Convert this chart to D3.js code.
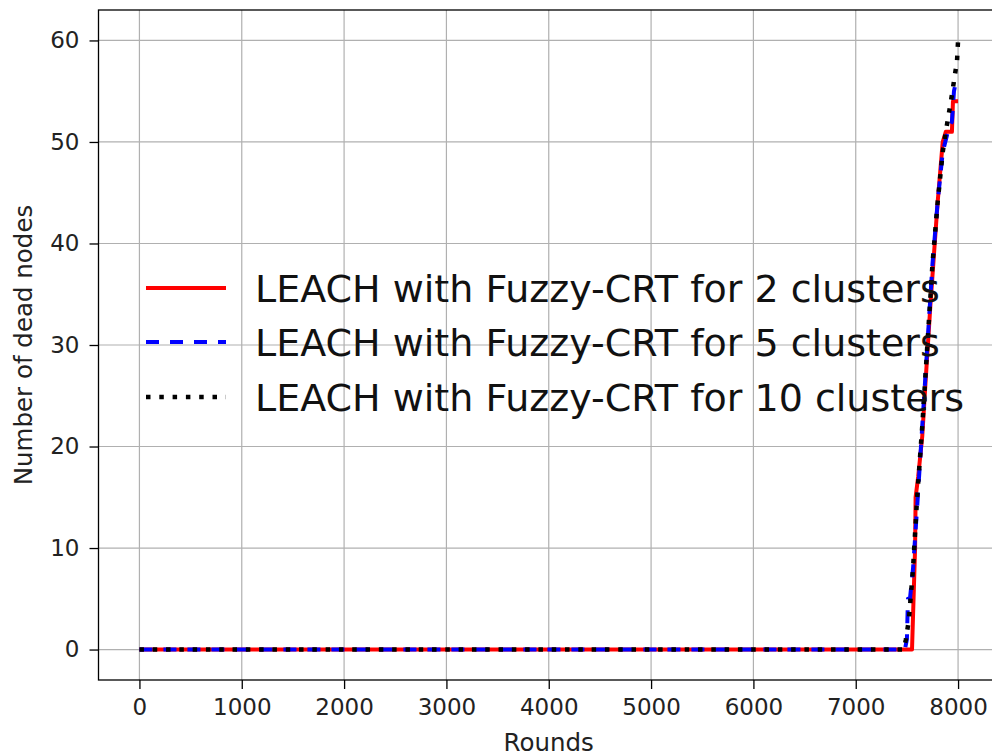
<!DOCTYPE html>
<html>
<head>
<meta charset="utf-8">
<script src="https://cdn.jsdelivr.net/npm/d3@7"></script>
<style>
  body { margin: 0; background: #fff; }
  svg { display: block; font-family: "DejaVu Sans", sans-serif; }
</style>
</head>
<body>
<div id="chart"></div>
<script>
"use strict";

// rounds (x) and number of dead nodes (y) for each run
const rounds2 = [0, 7550, 7580, 7585, 7610, 7650, 7680, 7730, 7800, 7850, 7880, 7940, 7950, 7990, 8000]
const dead2 = [0, 0, 10, 15, 17, 21, 26, 34, 44, 50, 51, 51, 54, 54, 54]

const rounds5 = [0, 7480, 7500, 7510, 7530, 7560, 7600, 7650, 7700, 7750, 7800, 7850, 7900, 7940, 7960, 7980, 8000]
const dead5 = [0, 0, 1, 5, 5, 8, 14, 22, 30, 38, 44, 49, 51, 52, 55, 56, 56]

const rounds10 = [0, 7470, 7490, 7520, 7560, 7600, 7650, 7700, 7750, 7800, 7850, 7880, 7930, 7960, 7990, 8000]
const dead10 = [0, 0, 1, 3, 8, 15, 22, 30, 38, 44, 49, 51, 54, 56, 58, 60]

const xTicks = [0, 1000, 2000, 3000, 4000, 5000, 6000, 7000, 8000]
const yTicks = [0, 10, 20, 30, 40, 50, 60]

const seriesNames = [
    "LEACH with Fuzzy-CRT for 2 clusters",
    "LEACH with Fuzzy-CRT for 5 clusters",
    "LEACH with Fuzzy-CRT for 10 clusters"
]

const measurements = {
    width: 992,
    height: 756,
    left: 98.5,
    right: 999,
    top: 10,
    bottom: 680
}

const styles = [
    { color: "#ff0000", dash: null, width: 4 },
    { color: "#0000ff", dash: "13,11", width: 4 },
    { color: "#000000", dash: "4.5,8.8", width: 4.5 }
]

const series = [
    rounds2.map((r, i) => [r, dead2[i]]),
    rounds5.map((r, i) => [r, dead5[i]]),
    rounds10.map((r, i) => [r, dead10[i]])
]

const svg = d3.select("#chart").append("svg")
    .attr("width", measurements.width)
    .attr("height", measurements.height)

const scaleX = d3.scaleLinear()
    .domain([-400, 8400])
    .range([measurements.left, measurements.right])
const scaleY = d3.scaleLinear()
    .domain([-3, 63])
    .range([measurements.bottom, measurements.top])

// grid lines
svg.append("g").selectAll("line.vgrid")
    .data(xTicks)
    .enter().append("line")
    .attr("x1", d => scaleX(d)).attr("x2", d => scaleX(d))
    .attr("y1", measurements.top).attr("y2", measurements.bottom)
    .attr("stroke", "#b0b0b0").attr("stroke-width", 1.2)
svg.append("g").selectAll("line.hgrid")
    .data(yTicks)
    .enter().append("line")
    .attr("x1", measurements.left).attr("x2", measurements.right)
    .attr("y1", d => scaleY(d)).attr("y2", d => scaleY(d))
    .attr("stroke", "#b0b0b0").attr("stroke-width", 1.2)

// data lines
const line = d3.line()
    .x(d => scaleX(d[0]))
    .y(d => scaleY(d[1]))

series.forEach((s, i) => {
    svg.append("path")
        .datum(s)
        .attr("d", line)
        .attr("fill", "none")
        .attr("stroke", styles[i].color)
        .attr("stroke-width", styles[i].width)
        .attr("stroke-dasharray", styles[i].dash)
        .attr("stroke-linejoin", "round")
})

// frame
svg.append("rect")
    .attr("x", measurements.left).attr("y", measurements.top)
    .attr("width", measurements.right - measurements.left)
    .attr("height", measurements.bottom - measurements.top)
    .attr("fill", "none").attr("stroke", "#000").attr("stroke-width", 1.3)

// axes
const xAxis = d3.axisBottom(scaleX).tickValues(xTicks).tickFormat(d3.format("d")).tickSize(9).tickPadding(10)
const yAxis = d3.axisLeft(scaleY).tickValues(yTicks).tickFormat(d3.format("d")).tickSize(9).tickPadding(10)

const gx = svg.append("g")
    .attr("transform", "translate(0," + measurements.bottom + ")")
    .call(xAxis)
const gy = svg.append("g")
    .attr("transform", "translate(" + measurements.left + ",0)")
    .call(yAxis)

;[gx, gy].forEach(g => {
    g.select(".domain").remove()
    g.selectAll("line").attr("stroke", "#000").attr("stroke-width", 1.3)
    g.selectAll("text").attr("fill", "#222").style("font-size", "23px")
        .style("font-family", "DejaVu Sans")
})

// axis labels
svg.append("text")
    .attr("x", (measurements.left + measurements.right) / 2)
    .attr("y", 751)
    .attr("text-anchor", "middle")
    .attr("fill", "#222")
    .style("font-size", "24.5px")
    .text("Rounds")

svg.append("text")
    .attr("transform", "translate(32," + ((measurements.top + measurements.bottom) / 2) + ") rotate(-90)")
    .attr("text-anchor", "middle")
    .attr("fill", "#222")
    .style("font-size", "24.5px")
    .text("Number of dead nodes")

// legend (no frame)
const legendY = [288, 342, 397]
seriesNames.forEach((name, i) => {
    svg.append("line")
        .attr("x1", 146).attr("x2", 226)
        .attr("y1", legendY[i]).attr("y2", legendY[i])
        .attr("stroke", styles[i].color)
        .attr("stroke-width", styles[i].width)
        .attr("stroke-dasharray", styles[i].dash)
    svg.append("text")
        .attr("x", 255)
        .attr("y", legendY[i])
        .attr("dy", "0.36em")
        .attr("fill", "#111")
        .style("font-size", "38px")
        .text(name)
})
</script>
</body>
</html>
